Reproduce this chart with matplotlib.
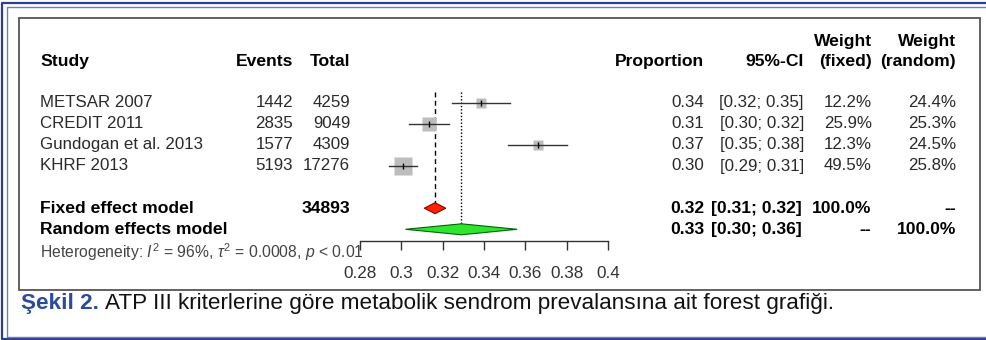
import numpy as np
import matplotlib
matplotlib.use("Agg")
import matplotlib.pyplot as plt
from matplotlib import transforms
from matplotlib.patches import Rectangle

plt.rcParams['font.family'] = ['Liberation Sans', 'DejaVu Sans']
plt.rcParams['mathtext.fontset'] = 'custom'
plt.rcParams['mathtext.rm'] = 'Liberation Sans'
plt.rcParams['mathtext.it'] = 'Liberation Sans:italic'

#%% data
studies = ["METSAR 2007", "CREDIT 2011", "Gundogan et al. 2013", "KHRF 2013"]
events = [1442, 2835, 1577, 5193]
totals = [4259, 9049, 4309, 17276]
prop = [0.3386, 0.3133, 0.3660, 0.3006]
ci_lo = [0.3244, 0.3037, 0.3516, 0.2938]
ci_hi = [0.3528, 0.3229, 0.3804, 0.3074]
w_fixed = [12.2, 25.9, 12.3, 49.5]
w_random = [24.4, 25.3, 24.5, 25.8]

fixed_est, fixed_lo, fixed_hi = 0.3163, 0.3111, 0.3215
random_est, random_lo, random_hi = 0.3291, 0.3020, 0.3560
total_n = 34893

xticks = [0.28, 0.30, 0.32, 0.34, 0.36, 0.38, 0.40]
xtick_labels = ["0.28", "0.3", "0.32", "0.34", "0.36", "0.38", "0.4"]

#%% figure, pixel helpers
W, H = 987, 340
fig = plt.figure(figsize=(W / 100, H / 100), dpi=100)
fig.patch.set_facecolor('white')

def fx(px):
    return px / W

def fy(py):
    return 1 - py / H

# forest axes: x 0.28..0.40 -> px 360..608, rows spaced 21.1 px
row0, drow = 102.7, 21.1
y_top, y_axis = 28.85, 240.7
ax = fig.add_axes([fx(360), fy(y_axis), (608 - 360) / W, (y_axis - y_top) / H])
ax.set_xlim(0.28, 0.40)
ax.set_ylim((y_axis - row0) / drow, (y_top - row0) / drow)
ax.patch.set_visible(False)
for s in ['top', 'left', 'right']:
    ax.spines[s].set_visible(False)
ax.spines['bottom'].set_bounds(0.28, 0.40)
ax.spines['bottom'].set_color('#333333')
ax.spines['bottom'].set_linewidth(1)
ax.set_yticks([])
ax.set_xticks(xticks)
ax.set_xticklabels(xtick_labels)
ax.tick_params(axis='x', length=6.5, width=1, color='#333333', pad=12,
               labelsize=12.3, labelcolor='#333333')

n = len(studies)
r_fixed, r_random = n + 1, n + 2
h = 0.26

# reference lines
ax.plot([fixed_est, fixed_est], [-0.5, r_fixed - h], color='black', lw=1,
        ls=(0, (3.5, 2.5)))
ax.plot([random_est, random_est], [-0.5, r_random - h], color='black', lw=1,
        ls=(0, (1, 1.4)))

# study squares + CI
for i in range(n):
    ax.plot(prop[i], i, 's', ms=1.9 * np.sqrt(w_fixed[i]), color='#BDBDBD',
            mec='none', zorder=2)
    ax.plot([ci_lo[i], ci_hi[i]], [i, i], color='#333333', lw=1, zorder=3)
    ax.plot(prop[i], i, '|', ms=5, color='black', mew=1, zorder=4)

# diamonds
ax.fill([fixed_lo, fixed_est, fixed_hi, fixed_est],
        [r_fixed, r_fixed - h, r_fixed, r_fixed + h],
        fc='#FF2200', ec='#8B0000', lw=0.8, zorder=3)
ax.fill([random_lo, random_est, random_hi, random_est],
        [r_random, r_random - h, r_random, r_random + h],
        fc='#2EE62E', ec='#006400', lw=0.8, zorder=3)

#%% text columns
tr = transforms.blended_transform_factory(fig.transFigure, ax.transData)
fs = 12.2
col = '#2a2a2a'

def put(x, row, s, ha='right', bold=False, **kw):
    ax.text(fx(x), row, s, transform=tr, ha=ha, va='center',
            fontsize=fs + 0.4 if bold else fs,
            fontweight='bold' if bold else 'normal',
            color='black' if bold else col, clip_on=False, **kw)

hdr = -1.95
put(40, hdr, "Study", ha='left', bold=True)
put(293, hdr, "Events", bold=True)
put(350, hdr, "Total", bold=True)
put(704, hdr, "Proportion", bold=True)
put(804, hdr, "95%-CI", bold=True)
put(872, hdr - 0.95, "Weight", bold=True)
put(872, hdr, "(fixed)", bold=True)
put(956, hdr - 0.95, "Weight", bold=True)
put(956, hdr, "(random)", bold=True)

for i in range(n):
    put(40, i, studies[i], ha='left')
    put(293, i, str(events[i]))
    put(350, i, str(totals[i]))
    put(704, i, f"{prop[i]:.2f}")
    put(804, i, f"[{ci_lo[i]:.2f}; {ci_hi[i]:.2f}]")
    put(872, i, f"{w_fixed[i]:.1f}%")
    put(956, i, f"{w_random[i]:.1f}%")

put(40, r_fixed, "Fixed effect model", ha='left', bold=True)
put(350, r_fixed, str(total_n), bold=True)
put(704, r_fixed, f"{fixed_est:.2f}", bold=True)
put(802, r_fixed, f"[{fixed_lo:.2f}; {fixed_hi:.2f}]", bold=True)
put(871, r_fixed, "100.0%", bold=True)
put(956, r_fixed, "--", bold=True)

put(40, r_random, "Random effects model", ha='left', bold=True)
put(704, r_random, f"{random_est:.2f}", bold=True)
put(802, r_random, f"[{random_lo:.2f}; {random_hi:.2f}]", bold=True)
put(871, r_random, "--", bold=True)
put(956, r_random, "100.0%", bold=True)

ax.text(fx(40), (252 - row0) / drow,
        r"Heterogeneity: $I^2$ = 96%, $\tau^2$ = 0.0008, $p$ < 0.01",
        transform=tr, ha='left', va='center', fontsize=11.3, color='#444444',
        clip_on=False)

#%% frames
fig.add_artist(Rectangle((fx(19.5), fy(290)), fx(980) - fx(19.5), fy(18) - fy(290),
                         transform=fig.transFigure, fill=False, ec='#555555', lw=1.3))
# double blue border (open on the right)
for inset, c, lw in [(2.5, '#2A3F8F', 1.6), (6.5, '#6A80C0', 1.0)]:
    bot = 339 if inset < 4 else 336.5
    fig.add_artist(plt.Line2D([fx(W + 5), fx(inset), fx(inset), fx(W + 5)],
                              [fy(inset), fy(inset), fy(bot), fy(bot)],
                              transform=fig.transFigure, color=c, lw=lw))

#%% caption
t1 = fig.text(fx(21), fy(304), "Şekil 2.", ha='left', va='center', fontsize=16.2,
              fontweight='bold', color='#2B4C9B')
fig.canvas.draw()
bb = t1.get_window_extent()
fig.text(fx(bb.x1 + 6), fy(304),
         "ATP III kriterlerine göre metabolik sendrom prevalansına ait forest grafiği.",
         ha='left', va='center', fontsize=16.2, color='#111111')

fig.savefig('out.png', dpi=100)
